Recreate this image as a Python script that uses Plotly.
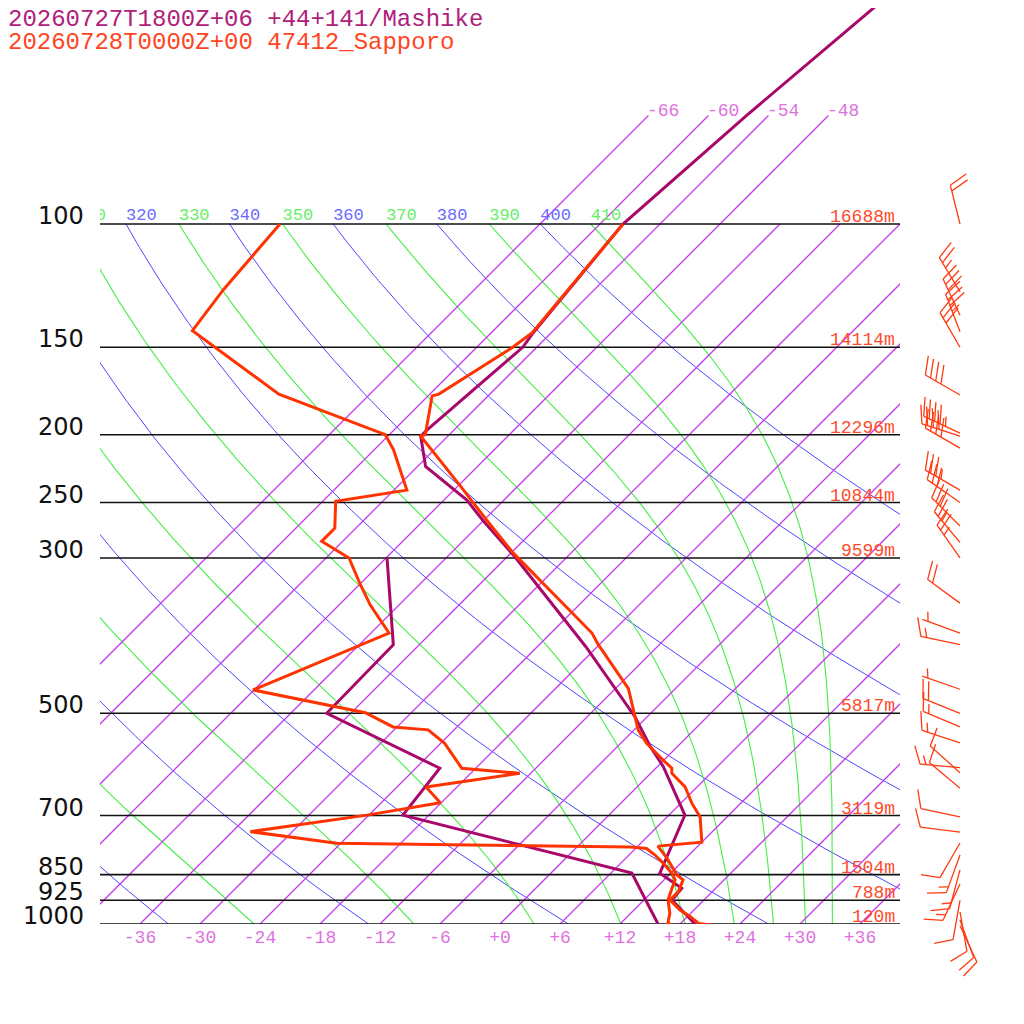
import numpy as np
import plotly.graph_objects as go

# titles
title_model = "20260727T1800Z+06 +44+141/Mashike"
title_obs = "20260728T0000Z+00 47412_Sapporo"

# Sapporo observed temperature (hPa, degC)
obs_t_p = [1006, 998, 976, 955, 924, 899, 865, 851, 805, 774, 764, 703, 672, 637, 609, 599, 583,
           552, 528, 506, 461, 399, 384, 295, 265, 237, 201, 200, 176, 175, 150, 143, 100]
obs_t = [21.8, 19.8, 18.3, 16.6, 14.6, 14.6, 13.9, 12.8, 10.1, 8.0, 12.0, 9.3, 7.1, 4.8, 2.1, 1.6, -0.1,
         -3.4, -5.6, -7.2, -10.7, -18.1, -19.9, -35.8, -41.7, -47.7, -56.7, -56.4, -59.6, -59.1, -56.4, -55.9, -57.7]

# Sapporo observed dewpoint
obs_td_p = [100, 124, 142, 175, 200, 210, 240, 249, 272, 284, 300, 326, 350, 384, 463, 499, 523, 528,
            552, 599, 609, 637, 671, 699, 738, 767, 776, 780, 797, 818, 846, 865, 888, 924, 965, 997, 1006]
obs_td = [-92.0, -91.1, -90.1, -75.1, -60.4, -58.1, -52.7, -58.7, -56.1, -56.1, -51.7, -48.1, -44.9, -40.2,
          -48.1, -34.6, -30.4, -26.6, -23.6, -19.4, -13.1, -21.1, -18.1, -24.2, -34.2, -24.4, 5.3, 7.1, 8.6,
          10.2, 12.1, 13.1, 13.6, 14.4, 15.9, 16.7, 17.5]

# Mashike model temperature / dewpoint
mdl_t_p = [1000, 924, 889, 846, 699, 596, 558, 506, 402, 299, 265, 248, 222, 201, 197, 150, 143, 100, 70, 50.1, 47.9]
mdl_t = [19.5, 14.8, 14.6, 10.9, 7.6, 0.6, -2.7, -7.2, -19.1, -35.2, -42.1, -45.7, -53.2, -56.7, -56.7,
         -55.4, -55.8, -57.7, -56.2, -54.4, -54.1]
mdl_td_p = [300, 399, 500, 599, 699, 846, 1000]
mdl_td = [-47.9, -38.6, -38.4, -21.6, -20.6, 8.1, 15.8]

# isobars and their heights
isobars = [100, 150, 200, 250, 300, 500, 700, 850, 925, 1000]
heights = ["16688m", "14114m", "12296m", "10844m", "9599m", "5817m", "3119m", "1504m", "788m", "120m"]

# bottom temperature ticks
t_ticks = [-36, -30, -24, -18, -12, -6, 0, 6, 12, 18, 24, 30, 36]
t_ticktext = ["-36", "-30", "-24", "-18", "-12", "-6", "+0", "+6", "+12", "+18", "+24", "+30", "+36"]

# background lines
isotherms = list(range(-66, 37, 6))
isotherm_labels = [-66, -60, -54, -48]
dry_thetas = list(range(240, 401, 20))
moist_thetas = list(range(250, 411, 20))

# Sapporo winds (hPa, deg, kt)
wind_p = [100, 125, 135, 142.5, 150, 175.5, 199, 201, 209, 240, 250, 270, 285, 300, 348, 384, 399, 462,
          500, 523, 551, 598, 608, 640, 703, 739, 766, 797, 837, 877, 925, 961, 987, 1006]
wind_dir = [346, 329, 335, 339, 330, 300, 295, 288, 300, 300, 305, 315, 320, 325, 306, 290, 282, 289,
            292, 293, 288, 275, 312, 310, 282, 277, 210, 200, 195, 205, 190, 170, 160, 155]
wind_kt = [20, 25, 30, 35, 30, 40, 45, 40, 40, 35, 30, 30, 25, 25, 20, 5, 15, 5,
           20, 15, 15, 15, 10, 10, 10, 10, 10, 15, 15, 15, 10, 10, 10, 10]

RED = "#ff3300"
PURPLE = "#a8086a"
ISO_COLOR = "#c83cf0"
SKEW = 70.0
# the page puts the figure 8px in from the corner, so the figure is 1016 square
W = 1016
OFF = 8


def skx(t, p):
    return np.asarray(t, float) + SKEW * np.log10(1000.0 / np.asarray(p, float))


def theta_e_sat(tc, p):
    tk = tc + 273.15
    es = 6.112 * np.exp(17.67 * tc / (tc + 243.5))
    r = 622.0 * es / (p - es)
    return tk * (1000.0 / p) ** (0.2854 * (1 - 0.28e-3 * r)) * np.exp((3.376 / tk - 0.00254) * r * (1 + 0.81e-3 * r))


def moist_t(the, p):
    lo = np.full_like(p, -150.0)
    hi = np.full_like(p, 40.0)
    for _ in range(60):
        mid = (lo + hi) / 2
        f = theta_e_sat(mid, p) - the
        hi = np.where(f > 0, mid, hi)
        lo = np.where(f > 0, lo, mid)
    return (lo + hi) / 2


fig = go.Figure()
pp = 10 ** np.linspace(3, 2, 150)


def add_lines(xs, ys, color, width):
    fig.add_trace(go.Scatter(x=xs, y=ys, mode="lines", line=dict(color=color, width=width),
                             hoverinfo="skip", showlegend=False))


# dry adiabats
xs, ys = [], []
for th in dry_thetas:
    tc = th * (pp / 1000.0) ** 0.2857 - 273.15
    xs += [float(v) for v in skx(tc, pp)] + [None]
    ys += [float(v) for v in pp] + [None]
add_lines(xs, ys, "#4a4aff", 1)

# moist adiabats
xs, ys = [], []
moist_top = []
for th in moist_thetas:
    tc = moist_t(float(th), pp)
    xs += [float(v) for v in skx(tc, pp)] + [None]
    ys += [float(v) for v in pp] + [None]
    moist_top.append(float(skx(tc[-1], 100)))
add_lines(xs, ys, "#44ee44", 1.1)

# isotherms
xs, ys = [], []
for t in isotherms:
    ptop = 70 if t in isotherm_labels else 100
    pl = 10 ** np.linspace(3, np.log10(ptop), 40)
    xs += [float(v) for v in skx(t, pl)] + [None]
    ys += [float(v) for v in pl] + [None]
add_lines(xs, ys, ISO_COLOR, 1.3)

# isobars
for p in isobars:
    fig.add_trace(go.Scatter(x=[-40, 40], y=[p, p], mode="lines", line=dict(color="#111111", width=1.6),
                             hoverinfo="skip", showlegend=False))

# theta labels along 100 hPa
dry_top = [float(skx(th * 0.1 ** 0.2857 - 273.15, 100)) for th in dry_thetas]
fig.add_trace(go.Scatter(x=dry_top, y=[100] * len(dry_top), mode="text", text=[str(t) for t in dry_thetas],
                         textposition="top right", cliponaxis=True, showlegend=False, hoverinfo="skip",
                         textfont=dict(family="Liberation Mono", size=17, color="#6a6aff")))
fig.add_trace(go.Scatter(x=moist_top, y=[100] * len(moist_top), mode="text", text=[str(t) for t in moist_thetas],
                         textposition="top right", cliponaxis=True, showlegend=False, hoverinfo="skip",
                         textfont=dict(family="Liberation Mono", size=17, color="#66ee66")))

# profiles
for p, t, col in [(mdl_td_p, mdl_td, PURPLE), (mdl_t_p, mdl_t, PURPLE),
                  (obs_td_p, obs_td, RED), (obs_t_p, obs_t, RED)]:
    fig.add_trace(go.Scatter(x=[float(v) for v in skx(t, p)], y=p, mode="lines", line=dict(color=col, width=3),
                             showlegend=False, hoverinfo="skip"))

# wind barbs (drawn on a full-page overlay with the same pressure scale)
bx, by = [], []
base_x = 960
L = 40.0
for p, d, s in zip(wind_p, wind_dir, wind_kt):
    a = np.radians(d)
    ux, uy = np.sin(a), -np.cos(a)
    nx, ny = -uy, ux

    def pt(dx, dy):
        return float(base_x + dx), float(p * 10 ** (dy / 700.0))

    tx, ty = L * ux, L * uy
    x0, y0 = pt(0, 0)
    x1, y1 = pt(tx, ty)
    bx += [x0, x1, None]
    by += [y0, y1, None]
    full, half = int(s // 10), (s % 10) >= 5
    pos = 0.0 if full else 6.0
    feathers = [1.0] * full + ([0.5] if half else [])
    for f in feathers:
        sx, sy = tx - pos * ux, ty - pos * uy
        ex, ey = sx + f * (18 * nx + 7 * ux), sy + f * (18 * ny + 7 * uy)
        a0, b0 = pt(sx, sy)
        a1, b1 = pt(ex, ey)
        bx += [a0, a1, None]
        by += [b0, b1, None]
        pos += 6.0
fig.add_trace(go.Scatter(x=bx, y=by, mode="lines", line=dict(color="#ff3a10", width=1.3),
                         xaxis="x2", yaxis="y2", showlegend=False, hoverinfo="skip"))

ann = []
for p in isobars:
    ann.append(dict(x=(86 - OFF) / W, xref="paper", xanchor="right", y=np.log10(p), yref="y",
                    yanchor="bottom", yshift=-8, text=str(p), showarrow=False,
                    font=dict(family="DejaVu Sans", size=24, color="#111111")))
for p, h in zip(isobars, heights):
    ann.append(dict(x=40, xref="x", xanchor="right", xshift=-3, y=np.log10(p), yref="y", yanchor="bottom",
                    yshift=-5, text=h, showarrow=False,
                    font=dict(family="Liberation Mono", size=18, color="#ff4a2a")))
for t in isotherm_labels:
    ann.append(dict(x=float(skx(t, 70)), xref="x", xanchor="left", xshift=-3, y=np.log10(70), yref="y",
                    yanchor="middle", yshift=5, text=str(t), showarrow=False,
                    font=dict(family="Liberation Mono", size=18, color="#e070e0")))
ann.append(dict(x=0, xref="paper", xanchor="left", xshift=-2, y=1, yref="paper", yanchor="top", yshift=4,
                text=title_model, showarrow=False, font=dict(family="Liberation Mono", size=24, color="#b0207a")))
ann.append(dict(x=0, xref="paper", xanchor="left", xshift=-2, y=1, yref="paper", yanchor="top", yshift=-19,
                text=title_obs, showarrow=False, font=dict(family="Liberation Mono", size=24, color="#ff4422")))

top_log = 3 - (924 - OFF) / 700
fig.update_layout(
    width=W, height=W, margin=dict(l=0, r=0, t=0, b=0),
    paper_bgcolor="white", plot_bgcolor="rgba(0,0,0,0)", showlegend=False,
    xaxis=dict(domain=[(100 - OFF) / W, (900 - OFF) / W], range=[-40, 40], showgrid=False, zeroline=False,
               showline=False, ticks="", tickvals=t_ticks, ticktext=t_ticktext,
               tickfont=dict(family="Liberation Mono", size=18, color="#e070e0")),
    yaxis=dict(domain=[100 / W, 1], type="log", range=[3, top_log], showgrid=False,
               zeroline=False, showticklabels=False, ticks=""),
    xaxis2=dict(domain=[0, 1], range=[OFF, 1024], visible=False, anchor="y2"),
    yaxis2=dict(domain=[0, 1], type="log", range=[3 + 100 / 700, top_log], visible=False, anchor="x2"),
    annotations=ann,
)

fig.write_html("out.html")
